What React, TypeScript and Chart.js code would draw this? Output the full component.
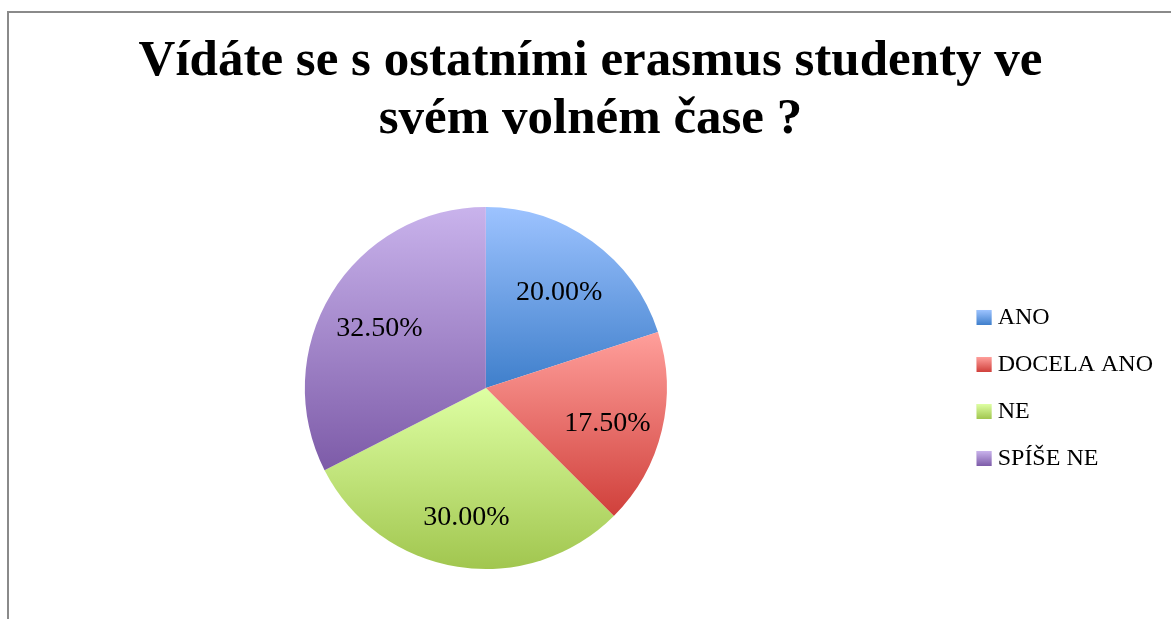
import React, { useEffect, useRef } from "react";
import { Chart, registerables } from "chart.js";

Chart.register(...registerables);

const TITLE_LINES = ["Vídáte se s ostatními erasmus studenty ve", "svém volném čase ?"];
const CATEGORIES = ["ANO", "DOCELA ANO", "NE", "SPÍŠE NE"];
const VALUES = [20.0, 17.5, 30.0, 32.5];
const GRADIENT_TOP = ["#9DC3FF", "#FF9F9B", "#DEFFA3", "#C9B3EC"];
const GRADIENT_BOTTOM = ["#3F7FCB", "#D0403B", "#A1C64F", "#7D5BA8"];
const SOLID = ["#6E9FE4", "#EB6F6B", "#C2E479", "#A487CB"];

const CANVAS_W = 1178;
const CANVAS_H = 606;
const LEGEND_FONT = 24;
const LEGEND_SWATCH = 15;

function containsAngle(s: number, e: number, a: number) {
  const TAU = Math.PI * 2;
  for (let k = -2; k <= 2; k++) {
    const v = a + k * TAU;
    if (v >= s && v <= e) return true;
  }
  return false;
}

const gradientPlugin = {
  id: "sliceGradient",
  beforeDatasetsDraw(chart: any) {
    const ctx = chart.ctx;
    const meta = chart.getDatasetMeta(0);
    meta.data.forEach((el: any, i: number) => {
      const { x, y, startAngle, endAngle, outerRadius } = el.getProps(
        ["x", "y", "startAngle", "endAngle", "outerRadius"],
        true
      );
      const ys = [y, y + outerRadius * Math.sin(startAngle), y + outerRadius * Math.sin(endAngle)];
      if (containsAngle(startAngle, endAngle, -Math.PI / 2)) ys.push(y - outerRadius);
      if (containsAngle(startAngle, endAngle, Math.PI / 2)) ys.push(y + outerRadius);
      const y0 = Math.min(...ys);
      const y1 = Math.max(...ys);
      const g = ctx.createLinearGradient(0, y0, 0, y1);
      g.addColorStop(0, GRADIENT_TOP[i]);
      g.addColorStop(1, GRADIENT_BOTTOM[i]);
      try {
        el.options.backgroundColor = g;
      } catch (e) {
        el.options = Object.assign({}, el.options, { backgroundColor: g });
      }
    });
  },
  afterDatasetsDraw(chart: any) {
    const ctx = chart.ctx;
    const meta = chart.getDatasetMeta(0);
    const data = chart.data.datasets[0].data as number[];
    ctx.save();
    ctx.font = "28px 'Liberation Serif'";
    ctx.fillStyle = "#000";
    ctx.textAlign = "center";
    ctx.textBaseline = "middle";
    meta.data.forEach((el: any, i: number) => {
      const { x, y, startAngle, endAngle, outerRadius } = el.getProps(
        ["x", "y", "startAngle", "endAngle", "outerRadius"],
        true
      );
      const mid = (startAngle + endAngle) / 2;
      const d = outerRadius * 0.69;
      ctx.fillText(data[i].toFixed(2) + "%", x + Math.cos(mid) * d, y + Math.sin(mid) * d + 6);
    });
    ctx.restore();
  },
  afterDraw(chart: any) {
    const legend = chart.legend;
    if (!legend || !legend.legendHitBoxes) return;
    const ctx = chart.ctx;
    legend.legendHitBoxes.forEach((hb: any, i: number) => {
      const top = hb.top + Math.max((LEGEND_FONT - LEGEND_SWATCH) / 2, 0);
      const g = ctx.createLinearGradient(0, top, 0, top + LEGEND_SWATCH);
      g.addColorStop(0, GRADIENT_TOP[i]);
      g.addColorStop(1, GRADIENT_BOTTOM[i]);
      ctx.save();
      ctx.fillStyle = g;
      ctx.fillRect(hb.left, top, LEGEND_SWATCH, LEGEND_SWATCH);
      ctx.restore();
    });
  },
};

export default function App() {
  const ref = useRef<HTMLCanvasElement>(null);

  useEffect(() => {
    if (!ref.current) return;
    const chart = new Chart(ref.current, {
      type: "pie",
      data: {
        labels: CATEGORIES,
        datasets: [
          {
            data: VALUES,
            backgroundColor: SOLID,
            borderWidth: 0,
          },
        ],
      },
      options: {
        responsive: false,
        animation: false,
        layout: { padding: { left: 13, right: 20, top: 0, bottom: 50 } },
        plugins: {
          title: {
            display: true,
            text: TITLE_LINES,
            color: "#000",
            font: { family: "'Liberation Serif'", size: 51, weight: "bold", lineHeight: 1.137 },
            padding: { top: 20, bottom: 58 },
          },
          legend: {
            position: "right",
            fullSize: false,
            align: "center",
            labels: {
              color: "#000",
              boxWidth: 9,
              boxHeight: LEGEND_SWATCH,
              padding: 23,
              font: { family: "'Liberation Serif'", size: LEGEND_FONT },
            },
          },
          tooltip: { enabled: false },
        },
      },
      plugins: [gradientPlugin],
    });
    return () => chart.destroy();
  }, []);

  return (
    <div style={{ position: "fixed", left: 0, top: 0, width: "100vw", height: "100vh", overflow: "hidden", background: "#fff" }}>
      <canvas
        ref={ref}
        width={CANVAS_W}
        height={CANVAS_H}
        style={{ position: "absolute", left: 5, top: 13, width: CANVAS_W, height: CANVAS_H }}
      />
      <div
        style={{
          position: "absolute",
          left: 7,
          top: 11,
          width: 1200,
          height: 700,
          border: "2px solid #8a8a8a",
          pointerEvents: "none",
        }}
      />
    </div>
  );
}
